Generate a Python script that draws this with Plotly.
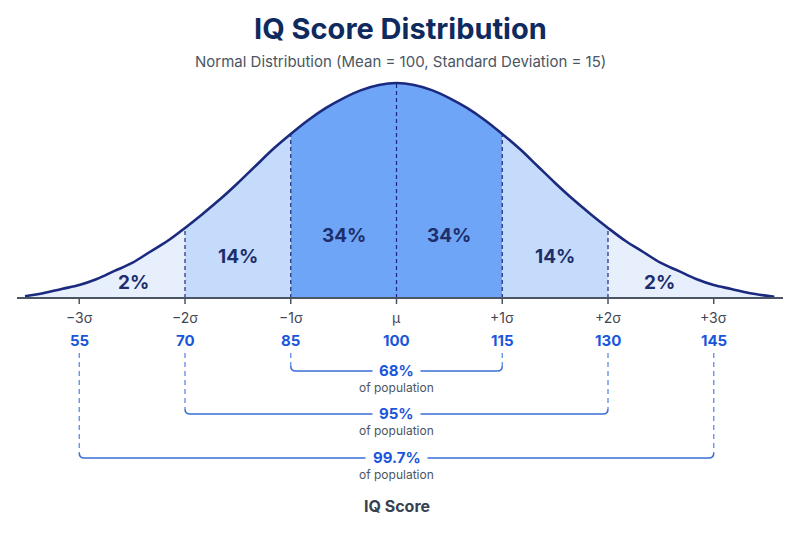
import plotly.graph_objects as go

# ---------------- data ----------------
iq_scores = [47.3, 50, 52.5, 55, 57.5, 60, 62.5, 65, 67.5, 70, 72.5, 75, 77.5, 80, 82.5,
             85, 87.5, 90, 92.5, 95, 97.5, 100, 102.5, 105, 107.5, 110, 112.5, 115,
             117.5, 120, 122.5, 125, 127.5, 130, 132.5, 135, 137.5, 140, 142.5, 145,
             147.5, 150, 153.6]
# relative density (peak = 1)
rel_density = [0.008, 0.023, 0.042, 0.060, 0.088, 0.126, 0.163, 0.214, 0.265, 0.326,
               0.391, 0.460, 0.535, 0.614, 0.693, 0.763, 0.828, 0.884, 0.930, 0.967,
               0.991, 1.000, 0.991, 0.967, 0.930, 0.884, 0.828, 0.763, 0.693, 0.614,
               0.535, 0.460, 0.391, 0.326, 0.265, 0.214, 0.163, 0.126, 0.088, 0.060,
               0.042, 0.023, 0.006]

sigma_labels = ["\u22123\u03c3", "\u22122\u03c3", "\u22121\u03c3", "\u03bc", "+1\u03c3", "+2\u03c3", "+3\u03c3"]
sigma_scores = [55, 70, 85, 100, 115, 130, 145]
region_bounds = [47.3, 70, 85, 115, 130, 153.6]
region_pcts = ["2%", "14%", "34%", "34%", "14%", "2%"]
region_label_x = [62.7, 77.5, 92.5, 107.5, 122.5, 137.3]
range_pcts = ["68%", "95%", "99.7%"]
range_bounds = [(85, 115), (70, 130), (55, 145)]

# ---------------- geometry helpers ----------------
W, H = 800, 533
BASE_PX, PEAK_PX = 298, 83
def Y(px):  # pixel row -> data y
    return (BASE_PX - px) / (BASE_PX - PEAK_PX)
def P(px):  # pixel row -> paper y
    return 1 - px / H
XPX = 7.05  # px per score unit

navy = "#1b2a7e"
blue = "#1a56db"
gray = "#4b5563"
font = "Inter, Roboto, sans-serif"

fig = go.Figure()

# region fills
fill_colors = ["#e7effd", "#c5dbfb", "#6fa5f6", "#c5dbfb", "#e7effd"]
for i in range(5):
    a, b = region_bounds[i], region_bounds[i + 1]
    xs = [x for x in iq_scores if a <= x <= b]
    ys = [rel_density[iq_scores.index(x)] for x in xs]
    fig.add_trace(go.Scatter(x=xs, y=ys, mode="lines", fill="tozeroy",
                             fillcolor=fill_colors[i],
                             line=dict(width=0, shape="spline", color=fill_colors[i]),
                             hoverinfo="skip"))

# dashed lines inside curve
for s in [70, 85, 100, 115, 130]:
    h = rel_density[iq_scores.index(s)]
    fig.add_trace(go.Scatter(x=[s, s], y=[0, h], mode="lines",
                             line=dict(color=navy, width=1.2, dash="4px,3px"),
                             hoverinfo="skip"))

# curve outline
fig.add_trace(go.Scatter(x=iq_scores, y=rel_density, mode="lines",
                         line=dict(color=navy, width=2.6, shape="spline"),
                         hoverinfo="skip"))

shapes = []
# baseline
shapes.append(dict(type="line", xref="paper", yref="y", x0=0, x1=1, y0=0, y1=0,
                   line=dict(color=gray, width=2)))
# ticks
for s in sigma_scores:
    shapes.append(dict(type="line", xref="x", yref="y", x0=s, x1=s, y0=0, y1=Y(304),
                       line=dict(color=gray, width=1.5)))

annotations = []
def txt(x, y, text, size, color, xref="x", yref="paper"):
    annotations.append(dict(x=x, y=y, xref=xref, yref=yref, text=text, showarrow=False,
                            xanchor="center", yanchor="middle",
                            font=dict(family=font, size=size, color=color)))

# region percentages
region_label_px = [282, 256, 235, 235, 256, 282]
for lbl, x, py in zip(region_pcts, region_label_x, region_label_px):
    txt(x, Y(py), f"<b>{lbl}</b>", 19, "#1e2d6b", yref="y")

# sigma labels and score numbers
for lbl, s in zip(sigma_labels, sigma_scores):
    txt(s, P(317), lbl, 14, "#3f4754")
    txt(s, P(340), f"<b>{s}</b>", 15, blue)

# brackets
bracket_px = [371, 414, 458]
gap_half_px = [24, 24, 31]
r_px = 5
for (a, b), pct, lpx, gh in zip(range_bounds, range_pcts, bracket_px, gap_half_px):
    for s in (a, b):
        shapes.append(dict(type="line", xref="x", yref="y", x0=s, x1=s,
                           y0=Y(353), y1=Y(lpx - r_px),
                           line=dict(color="#5b8ae6", width=1.3, dash="5px,4px")))
    rx = r_px / XPX
    gx = gh / XPX
    yl, yr = Y(lpx), Y(lpx - r_px)
    path = (f"M {a},{yr} Q {a},{yl} {a + rx},{yl} L {100 - gx},{yl} "
            f"M {100 + gx},{yl} L {b - rx},{yl} Q {b},{yl} {b},{yr}")
    shapes.append(dict(type="path", xref="x", yref="y", path=path,
                       line=dict(color="#3b6fd8", width=1.5)))
    txt(100, P(lpx - 1), f"<b>{pct}</b>", 15, blue)
    txt(100, P(lpx + 16), "of population", 12, gray)

# titles
txt(0.5, P(28), "<b>IQ Score Distribution</b>", 29, "#0f2a5e", xref="paper")
txt(0.5, P(62), "Normal Distribution (Mean = 100, Standard Deviation = 15)", 15, gray, xref="paper")
txt(100, P(506), "<b>IQ Score</b>", 16, "#374151")

x_lo = 100 + (17 - 396.5) / XPX
x_hi = 100 + (783 - 396.5) / XPX

fig.update_layout(
    width=W, height=H,
    margin=dict(l=17, r=17, t=0, b=0),
    paper_bgcolor="white", plot_bgcolor="white",
    showlegend=False, hovermode=False,
    xaxis=dict(range=[x_lo, x_hi], visible=False, fixedrange=True),
    yaxis=dict(range=[Y(H), Y(0)], visible=False, fixedrange=True),
    shapes=shapes, annotations=annotations,
)

fig.write_html("out.html")
